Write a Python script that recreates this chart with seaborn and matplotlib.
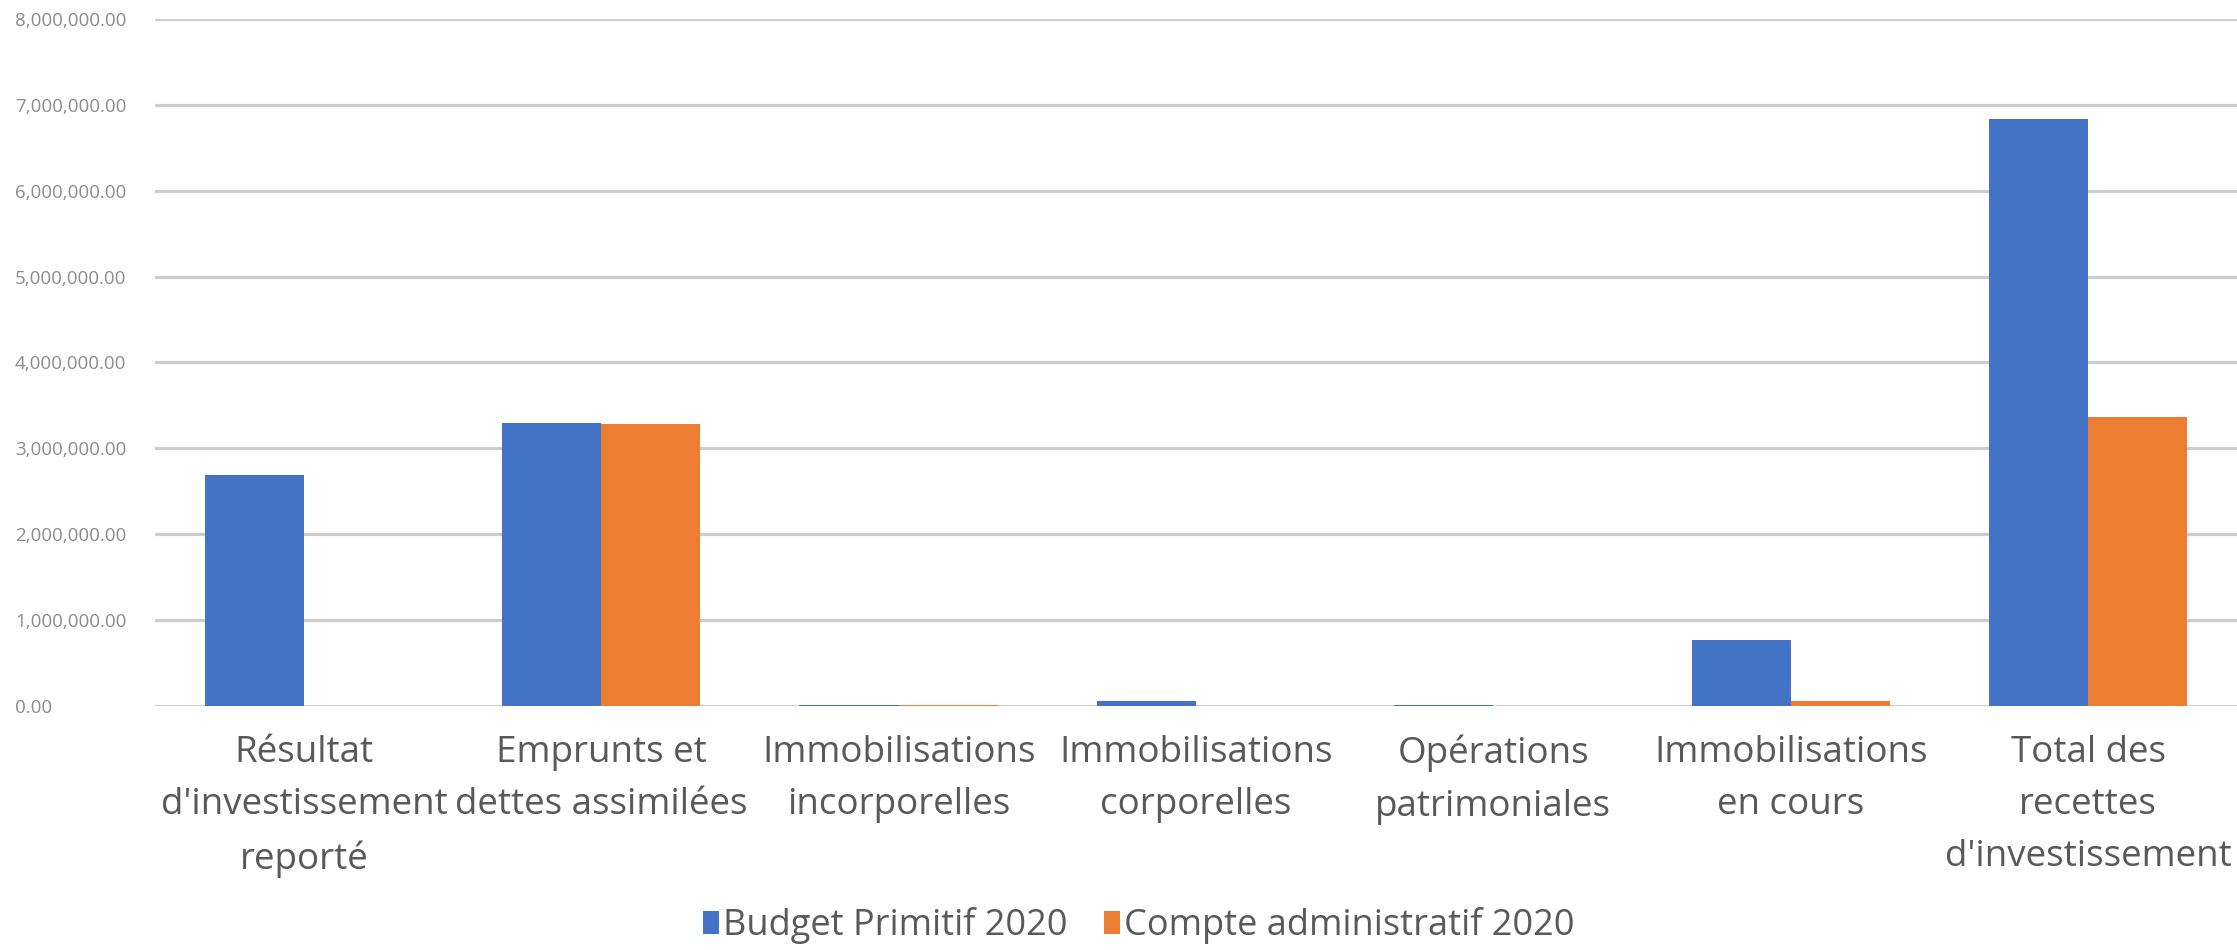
"""
Recettes d'investissement : Budget Primitif 2020 vs Compte administratif 2020,
redrawn as a grouped seaborn bar chart.
"""

import pandas as pd
import seaborn as sns

from matplotlib import pyplot as plt
from matplotlib.ticker import FuncFormatter


categories = ["Résultat\nd'investissement\nreporté",
              "Emprunts et\ndettes assimilées",
              "Immobilisations\nincorporelles",
              "Immobilisations\ncorporelles",
              "Opérations\npatrimoniales",
              "Immobilisations\nen cours",
              "Total des\nrecettes\nd'investissement"]
series = ["Budget Primitif 2020", "Compte administratif 2020"]
budget_primitif = [2690000, 3290000, 12000, 60000, 10000, 760000, 6840000]
compte_admin = [0, 3280000, 12000, 0, 0, 55000, 3360000]
y_ticks = [0, 1000000, 2000000, 3000000, 4000000,
           5000000, 6000000, 7000000, 8000000]

colors = ["#4472C4", "#ED7D31"]


def main():
    df = pd.DataFrame({
        'Catégorie': categories * 2,
        'Série': [series[0]] * len(categories) + [series[1]] * len(categories),
        'Montant': budget_primitif + compte_admin,
    })

    sns.set_style('white')
    plt.rcParams['font.family'] = ['Open Sans', 'DejaVu Sans']

    fig = plt.figure(figsize=(22.37, 9.5), dpi=100)
    ax = fig.add_axes([0.0694, 0.2572, 0.9305, 0.7225])

    sns.barplot(data=df, x='Catégorie', y='Montant', hue='Série',
                palette=colors, width=0.667, saturation=1, ax=ax,
                edgecolor='none', zorder=3)

    ax.set_xlim(-0.5, len(categories) - 0.5)
    ax.set_ylim(0, 8000000)
    ax.set_yticks(y_ticks)
    ax.yaxis.set_major_formatter(FuncFormatter(lambda v, p: f"{v:,.2f}"))
    ax.grid(axis='y', color='#cccccc', linewidth=2.3, zorder=0)
    ax.set_axisbelow(True)
    for side in ['top', 'right', 'left', 'bottom']:
        ax.spines[side].set_visible(False)
    ax.set_xlabel('')
    ax.set_ylabel('')

    ax.tick_params(axis='y', length=0, pad=101, labelsize=13.5,
                   labelcolor='#8c8c8c')
    for lab in ax.get_yticklabels():
        lab.set_horizontalalignment('left')
    ax.tick_params(axis='x', length=0, pad=21, labelsize=26.5,
                   labelcolor='#595959')
    for lab in ax.get_xticklabels():
        lab.set_linespacing(1.6)

    ax.legend_.remove()
    handles, labels = ax.get_legend_handles_labels()
    fig.legend(handles, labels, loc='lower center',
               bbox_to_anchor=(0.509, -0.028), ncol=2, frameon=False,
               fontsize=26, labelcolor='#595959', handlelength=0.45,
               handleheight=0.6, handletextpad=0.1, columnspacing=1.0)

    fig.savefig('out.png', dpi=100)


if __name__ == '__main__':
    main()
